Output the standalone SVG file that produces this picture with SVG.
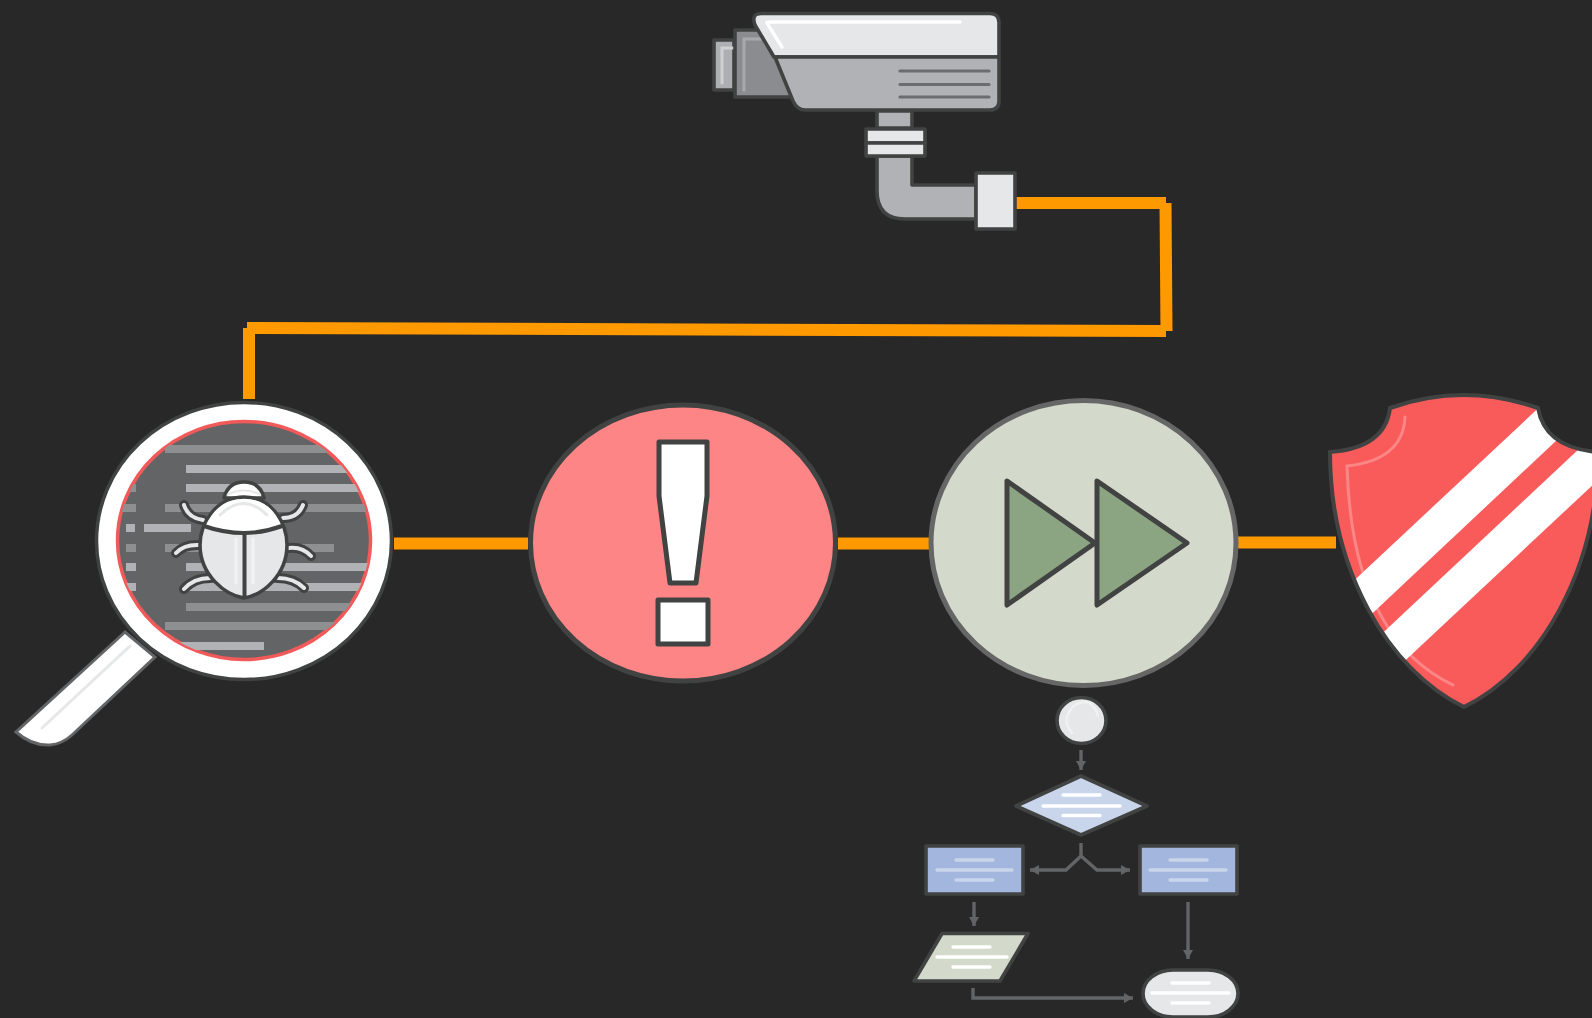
<svg xmlns="http://www.w3.org/2000/svg" width="1592" height="1018" viewBox="0 0 1592 1018">
<style>
.o{stroke:#414242;stroke-width:3.6;stroke-linejoin:round;stroke-linecap:round}
.o5{stroke:#414242;stroke-width:5;stroke-linejoin:round}
.lg{fill:#e6e7e8}.mg{fill:#b1b2b6}
.w{stroke:#fff;stroke-width:3.4;stroke-linecap:round;fill:none}
.b{stroke:#c9d5ea;stroke-width:3.4;stroke-linecap:round;fill:none}
.v{stroke:#6b6c70;stroke-width:3.2;stroke-linecap:round}
.orange{stroke:#f90;stroke-width:12;fill:none}
.flow{stroke:#636466;stroke-width:3.4;fill:none;marker-end:url(#ah)}
.d{fill:#8e8f91}.l{fill:#b1b2b6}
.leg{fill:none;stroke:#414242;stroke-width:10;stroke-linecap:round}
.leg2{fill:none;stroke:#e6e7e8;stroke-width:4;stroke-linecap:round}
</style>
<defs>
<marker id="ah" markerUnits="userSpaceOnUse" markerWidth="12" markerHeight="12" refX="9" refY="6" orient="auto"><path d="M0,1L9,6L0,11Z" fill="#636466"/></marker>
<clipPath id="lens"><ellipse cx="244" cy="540.5" rx="126" ry="118.5"/></clipPath>
<clipPath id="sh"><path d="M1390,408Q1463,382 1538,408Q1545,448 1598,452C1598,570 1540,670 1464,707C1388,670 1330,570 1330,452Q1385,448 1390,408Z"/></clipPath>
</defs>
<rect width="1592" height="1018" fill="#282828"/>

<g id="connectors">
<path class="orange" d="M1016,203H1166"/>
<path class="orange" d="M1165.500,203L1166.500,331"/>
<path class="orange" d="M1166,331L247,328"/>
<path class="orange" d="M249,328V399"/>
<path class="orange" d="M394,543.5H528"/>
<path class="orange" d="M838,543.5H930"/>
<path class="orange" d="M1238,542.5H1336"/>
<path class="flow" d="M1081,750V770"/>
<path class="flow" d="M1081,843V856L1066,870H1030"/>
<path class="flow" d="M1081,856L1097,870H1130"/>
<path class="flow" d="M974,902V926"/>
<path class="flow" d="M1188,902V959"/>
<path class="flow" d="M973,988V998H1133"/>
</g>

<g id="camera">
<rect class="o" x="714" y="40" width="20" height="50" fill="#aeafb2"/>
<path d="M722,83V48H733" fill="none" stroke="#cfd0d2" stroke-width="3" stroke-linecap="round"/>
<rect class="o" x="735" y="30" width="58" height="67" fill="#8b8c8f"/>
<path d="M744,90V39H762" fill="none" stroke="#a8a9ac" stroke-width="3" stroke-linecap="round"/>
<path class="o lg" d="M761,13.500H990Q999,13.500 999,22.500V57H774L755,25Q751,13.500 761,13.500Z"/>
<path class="o mg" d="M775,57H999V101Q999,110 990,110H805Q797,110 793,101Z"/>
<path class="w" d="M782,47L767,23Q766,22 770,22H960"/>
<path class="v" d="M900,71H989M900,84.500H989M900,97H989"/>
<rect class="o mg" x="877" y="111" width="35" height="17"/>
<path class="o mg" d="M877,156V191Q877,219 905,219H976V185H912V156Z"/>
<rect class="o lg" x="866" y="129" width="59" height="14"/>
<rect class="o lg" x="866" y="143" width="59" height="13"/>
<rect class="o lg" x="976" y="173" width="39" height="56"/>
</g>

<g id="magnifier">
<path d="M125,632L16,732Q32,746 50,745Q62,744 72,735L155,657Z" fill="#fff" stroke="#636466" stroke-width="3"/>
<path d="M130,646L42,728" stroke="#e6e7e8" stroke-width="3" stroke-linecap="round"/>
<ellipse cx="244" cy="541" rx="147.500" ry="138.500" fill="#fff" stroke="#414242" stroke-width="3.500"/>
<ellipse cx="244" cy="540.500" rx="126.500" ry="119" fill="#636466" stroke="#f25a5a" stroke-width="3.500"/>
<g clip-path="url(#lens)">
<rect class="d" x="165" y="445" width="210" height="8"/>
<rect class="l" x="186" y="465" width="190" height="8"/>
<rect class="l" x="186" y="484" width="190" height="8"/>
<rect class="d" x="116" y="484" width="20" height="8"/>
<rect class="d" x="165" y="504" width="210" height="8"/>
<rect class="d" x="116" y="504" width="20" height="8"/>
<rect class="l" x="126" y="524" width="9" height="8"/>
<rect class="l" x="144" y="524" width="47" height="8"/>
<rect class="d" x="126" y="544" width="10" height="8"/>
<rect class="d" x="165" y="544" width="169" height="8"/>
<rect class="l" x="126" y="563" width="10" height="8"/>
<rect class="l" x="186" y="563" width="190" height="8"/>
<rect class="l" x="116" y="583" width="20" height="8"/>
<rect class="l" x="186" y="583" width="190" height="8"/>
<rect class="d" x="186" y="603" width="190" height="8"/>
<rect class="d" x="165" y="622" width="210" height="8"/>
<rect class="l" x="165" y="642" width="99" height="8"/>
</g>
</g>

<g id="bug">
<path class="leg" d="M203,520Q188,518 184,505M283,518Q298,518 303,505M200,545Q184,544 176,553M288,548Q302,546 311,556M210,578Q194,578 184,589M278,578Q294,578 304,588"/>
<path class="leg2" d="M203,520Q188,518 184,505M283,518Q298,518 303,505M200,545Q184,544 176,553M288,548Q302,546 311,556M210,578Q194,578 184,589M278,578Q294,578 304,588"/>
<path class="o" fill="#fff" d="M224,498Q228,482 244,482Q260,482 264,498Z"/>
<path d="M227,495Q244,486 261,495" fill="none" stroke="#e6e7e8" stroke-width="2"/>
<path class="o lg" d="M244,497C215,497 200,525 200,545C200,575 225,595 244,598C263,595 287,575 287,545C287,525 273,497 244,497Z"/>
<path d="M206,525C214,508 226,499 244,499C262,499 274,508 281,525Q244,538 206,525Z" fill="#fff"/>
<path d="M204,526Q244,540 282,526" fill="none" stroke="#414242" stroke-width="4"/>
<path d="M220,515Q244,492 267,515" fill="none" stroke="#e6e7e8" stroke-width="3" stroke-linecap="round"/>
<path d="M236,539V583M253,539V583" stroke="#f1f2f2" stroke-width="3.500" stroke-linecap="round"/>
<path d="M244.500,534V598" stroke="#414242" stroke-width="4"/>
</g>

<g id="alert">
<ellipse class="o5" cx="683" cy="543" rx="152.500" ry="138" fill="#fd8585"/>
<path class="o" style="stroke-width:5" fill="#fff" d="M659,442H707V496L696,583H670L659,496Z"/>
<rect class="o" style="stroke-width:5" fill="#fff" x="658" y="600" width="50" height="44"/>
</g>

<g id="forward">
<ellipse cx="1083.500" cy="543" rx="152.500" ry="142.500" fill="#d3d9cb" stroke="#666" stroke-width="5"/>
<path class="o" style="stroke-width:5" fill="#8ba582" d="M1007,481L1095,543L1007,605Z"/>
<path class="o" style="stroke-width:5" fill="#8ba582" d="M1097,481L1187,543L1097,605Z"/>
</g>

<g id="shield">
<path d="M1390,408Q1463,382 1538,408Q1545,448 1598,452C1598,570 1540,670 1464,707C1388,670 1330,570 1330,452Q1385,448 1390,408Z" fill="#f95b5b"/>
<path d="M1405,417Q1403,460 1347,466C1350,570 1380,650 1453,685" fill="none" stroke="#fb8686" stroke-width="3" stroke-linecap="round"/>
<g clip-path="url(#sh)">
<path d="M1547,400L1345,589L1360,625L1575,423Z" fill="#fff"/>
<path d="M1597,432L1372,643L1394,671L1612,467Z" fill="#fff"/>
</g>
<path d="M1390,408Q1463,382 1538,408Q1545,448 1598,452C1598,570 1540,670 1464,707C1388,670 1330,570 1330,452Q1385,448 1390,408Z" fill="none" stroke="#414242" stroke-width="4"/>
</g>

<g id="flow-start">
<ellipse class="o lg" cx="1081.500" cy="720.500" rx="24.500" ry="23"/>
<path d="M1072,733Q1065,725 1067,717Q1072,702 1086,702Q1095,704 1098,716" fill="none" stroke="#f1f1f2" stroke-width="2.500" stroke-linecap="round"/>
</g>
<g id="flow-decision">
<path class="o" fill="#c9d5ea" d="M1081,776L1147,806L1081,835L1016,806Z"/>
<path class="w" d="M1063,795H1100M1043,806H1120M1063,815.500H1100"/>
</g>
<g id="flow-left">
<rect class="o" x="926" y="846" width="97" height="48" fill="#a2b6de"/>
<path class="b" d="M956,860H993M937,870H1012M956,880H993"/>
</g>
<g id="flow-right">
<rect class="o" x="1140" y="846" width="97" height="48" fill="#a2b6de"/>
<path class="b" d="M1170,860H1207M1150,870H1226M1170,880H1207"/>
</g>
<g id="flow-data">
<path class="o" fill="#d3d9cb" d="M942,933.500H1028L1000,981H914Z"/>
<path class="w" d="M953,947H990M937,957H1007M953,967H990"/>
</g>
<g id="flow-end">
<rect class="o lg" x="1143" y="970" width="95" height="47" rx="30" ry="23.500"/>
<path class="w" d="M1172,983H1209M1152,993H1229M1172,1003H1209"/>
</g>
</svg>
